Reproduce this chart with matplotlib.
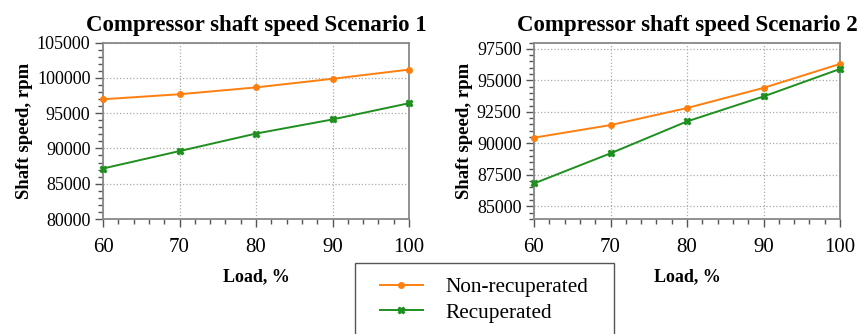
import matplotlib
matplotlib.use("Agg")
import matplotlib.pyplot as plt
from matplotlib.ticker import MultipleLocator
from matplotlib.patches import Rectangle

load = [60, 70, 80, 90, 100]
s1_nonrec = [96960, 97670, 98640, 99860, 101160]
s1_rec = [87150, 89620, 92100, 94100, 96400]
s2_nonrec = [90450, 91450, 92800, 94400, 96300]
s2_rec = [86820, 89210, 91740, 93720, 95900]
titles = ["Compressor shaft speed Scenario 1", "Compressor shaft speed Scenario 2"]
series_names = ["Non-recuperated", "Recuperated"]

plt.rcParams['font.family'] = ['Liberation Serif', 'DejaVu Serif']

fig = plt.figure(figsize=(8.58, 3.34), dpi=100)
W, H = 858, 334
ax1 = fig.add_axes([103 / W, 1 - 219 / H, 306 / W, 176.5 / H])
ax2 = fig.add_axes([534 / W, 1 - 219 / H, 306 / W, 176.5 / H])

orange = '#ff7f0e'
green = '#1f8f1f'
spine_c = '#888888'

configs = [
    (ax1, s1_nonrec, s1_rec, (80000, 105000), 5000, 1000),
    (ax2, s2_nonrec, s2_rec, (84000, 98000), 2500, 500),
]
lines = []
for i, (ax, nr, rc, ylim, major, minor) in enumerate(configs):
    l1, = ax.plot(load, nr, color=orange, marker='o', markersize=4, lw=1.4, clip_on=False, zorder=3)
    l2, = ax.plot(load, rc, color=green, marker='X', markersize=4.5, lw=1.4, clip_on=False, zorder=3)
    lines = [l1, l2]
    ax.set_xlim(60, 100)
    ax.set_ylim(*ylim)
    ax.xaxis.set_major_locator(MultipleLocator(10))
    ax.xaxis.set_minor_locator(MultipleLocator(2))
    ax.yaxis.set_major_locator(MultipleLocator(major))
    ax.yaxis.set_minor_locator(MultipleLocator(minor))
    ax.grid(True, which='major', color='#aaaaaa', linestyle=':', linewidth=0.9)
    for sp in ax.spines.values():
        sp.set_color(spine_c)
        sp.set_linewidth(1.3)
    ax.tick_params(which='major', length=6, width=1, color='#555555')
    ax.tick_params(which='minor', length=3.5, width=1, color='#555555')
    ax.tick_params(axis='y', labelsize=13, pad=3)
    ax.tick_params(axis='x', labelsize=15, pad=8)
    ax.set_title(titles[i], fontsize=16.5, fontweight='bold', pad=8)
    ax.set_xlabel("Load, %", fontsize=13, fontweight='bold', labelpad=8)
    ax.set_ylabel("Shaft speed, rpm", fontsize=13.5, fontweight='bold', labelpad=3)

leg = fig.legend(lines, series_names, loc='upper left', bbox_to_anchor=(380 / W, 1 - 277.5 / H),
                 fontsize=15.3, frameon=False,
                 handlelength=2.0, handletextpad=1.1, borderpad=0, labelspacing=0.25,
                 borderaxespad=0)
fig.patches.append(Rectangle((355 / W, 0 - 5 / H), 259 / W, (334 - 262.5 + 5) / H,
                             transform=fig.transFigure, fill=False, edgecolor='#555555',
                             linewidth=1.0, figure=fig))

fig.savefig("out.png", dpi=100)
